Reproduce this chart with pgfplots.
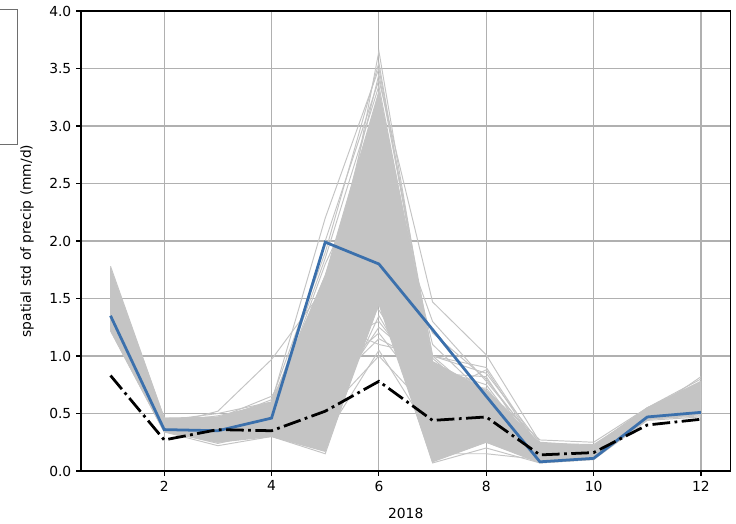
\documentclass[border=0pt]{standalone}
\usepackage{pgfplots}
\pgfplotsset{compat=1.18}
\usepackage{fontspec}
\setmainfont{DejaVu Sans}
\definecolor{ensgray}{RGB}{196,196,196}
\definecolor{gridgray}{RGB}{176,176,176}
\definecolor{mblue}{RGB}{59,112,172}
\definecolor{legframe}{RGB}{110,110,110}
\begin{document}
\begin{tikzpicture}
\path[use as bounding box] (-0.81in,-0.53in) rectangle (6.55in,4.71in);
\draw[legframe, line width=0.8pt] (-1.0in,4.617in) -- (-0.637in,4.617in) -- (-0.637in,3.263in) -- (-1.0in,3.263in);
\begin{axis}[
  at={(0,0)}, anchor=south west,
  scale only axis, width=6.495in, height=4.60in,
  xmin=0.45, xmax=12.55, ymin=0, ymax=4,
  xtick={2,4,6,8,10,12},
  ytick={0,0.5,1,1.5,2,2.5,3,3.5,4},
  yticklabel style={/pgf/number format/.cd, fixed, fixed zerofill, precision=1},
  /pgf/number format/assume math mode=true,
  xtick pos=bottom, ytick pos=left,
  tick align=outside, major tick length=3.5pt,
  every tick/.style={black, line width=0.8pt},
  axis line style={black, line width=0.8pt},
  grid=major, major grid style={gridgray, line width=0.8pt},
  tick label style={font=\fontsize{10}{12}\selectfont},
  label style={font=\fontsize{10}{12}\selectfont},
  xlabel={2018},
  ylabel={spatial std of precip (mm/d)},
  xlabel style={at={(axis description cs:0.5,-0.0913)}, anchor=center},
  ylabel style={at={(axis description cs:-0.0831,0.5)}, anchor=center},
  ens/.style={ensgray, line width=0.7pt},
  clip=true,
]
% dense ensemble envelope
\addplot[draw=ensgray, fill=ensgray, line width=0.7pt] coordinates {
 (1,1.76)(2,0.46)(3,0.47)(4,0.60)(5,1.70)(6,3.30)(7,0.95)(8,0.70)(9,0.24)(10,0.22)(11,0.55)(12,0.78)
 (12,0.50)(11,0.45)(10,0.10)(9,0.07)(8,0.25)(7,0.08)(6,1.45)(5,0.17)(4,0.30)(3,0.25)(2,0.34)(1,1.22)
} -- cycle;
% individual ensemble members
\addplot[ens] coordinates {(1,1.78)(2,0.46)(3,0.45)(4,0.55)(5,1.20)(6,3.65)(7,0.90)(8,0.55)(9,0.20)(10,0.18)(11,0.52)(12,0.70)};
\addplot[ens] coordinates {(1,1.70)(2,0.44)(3,0.50)(4,0.60)(5,2.20)(6,3.50)(7,1.00)(8,0.60)(9,0.22)(10,0.20)(11,0.55)(12,0.80)};
\addplot[ens] coordinates {(1,1.65)(2,0.42)(3,0.40)(4,0.50)(5,2.00)(6,3.40)(7,1.47)(8,1.01)(9,0.25)(10,0.22)(11,0.50)(12,0.75)};
\addplot[ens] coordinates {(1,1.55)(2,0.40)(3,0.52)(4,0.97)(5,1.60)(6,3.20)(7,0.80)(8,0.50)(9,0.18)(10,0.17)(11,0.50)(12,0.82)};
\addplot[ens] coordinates {(1,1.45)(2,0.38)(3,0.35)(4,0.45)(5,0.90)(6,3.30)(7,1.00)(8,0.90)(9,0.20)(10,0.20)(11,0.48)(12,0.60)};
\addplot[ens] coordinates {(1,1.30)(2,0.36)(3,0.30)(4,0.40)(5,0.50)(6,1.00)(7,0.50)(8,0.30)(9,0.10)(10,0.12)(11,0.46)(12,0.50)};
\addplot[ens] coordinates {(1,1.25)(2,0.35)(3,0.25)(4,0.35)(5,0.30)(6,1.05)(7,0.30)(8,0.25)(9,0.08)(10,0.11)(11,0.45)(12,0.48)};
\addplot[ens] coordinates {(1,1.40)(2,0.37)(3,0.28)(4,0.38)(5,0.80)(6,1.20)(7,0.60)(8,0.40)(9,0.12)(10,0.14)(11,0.47)(12,0.55)};
\addplot[ens] coordinates {(1,1.35)(2,0.39)(3,0.32)(4,0.42)(5,1.10)(6,1.30)(7,0.70)(8,0.45)(9,0.15)(10,0.15)(11,0.50)(12,0.60)};
\addplot[ens] coordinates {(1,1.50)(2,0.41)(3,0.38)(4,0.48)(5,1.40)(6,2.20)(7,1.20)(8,0.80)(9,0.20)(10,0.20)(11,0.50)(12,0.65)};
\addplot[ens] coordinates {(1,1.60)(2,0.43)(3,0.42)(4,0.52)(5,1.80)(6,2.80)(7,0.95)(8,0.70)(9,0.27)(10,0.25)(11,0.55)(12,0.72)};
\addplot[ens] coordinates {(1,1.22)(2,0.34)(3,0.22)(4,0.30)(5,0.15)(6,1.50)(7,0.07)(8,0.20)(9,0.07)(10,0.10)(11,0.44)(12,0.47)};
\addplot[ens] coordinates {(1,1.30)(2,0.36)(3,0.27)(4,0.33)(5,0.25)(6,1.60)(7,0.15)(8,0.15)(9,0.10)(10,0.12)(11,0.46)(12,0.52)};
\addplot[ens] coordinates {(1,1.48)(2,0.40)(3,0.46)(4,0.65)(5,1.30)(6,1.10)(7,1.00)(8,0.85)(9,0.24)(10,0.23)(11,0.53)(12,0.68)};
\addplot[ens] coordinates {(1,1.58)(2,0.42)(3,0.48)(4,0.58)(5,1.70)(6,3.00)(7,1.10)(8,0.65)(9,0.21)(10,0.19)(11,0.51)(12,0.76)};
\addplot[ens] coordinates {(1,1.38)(2,0.38)(3,0.33)(4,0.44)(5,0.60)(6,2.50)(7,0.40)(8,0.35)(9,0.14)(10,0.13)(11,0.48)(12,0.58)};
\addplot[ens] coordinates {(1,1.28)(2,0.35)(3,0.26)(4,0.36)(5,0.40)(6,2.00)(7,0.20)(8,0.28)(9,0.09)(10,0.11)(11,0.45)(12,0.50)};
\addplot[ens] coordinates {(1,1.68)(2,0.45)(3,0.44)(4,0.62)(5,1.90)(6,3.55)(7,0.85)(8,0.62)(9,0.19)(10,0.18)(11,0.54)(12,0.74)};
\addplot[ens] coordinates {(1,1.45)(2,0.39)(3,0.36)(4,0.47)(5,1.00)(6,2.90)(7,0.60)(8,0.50)(9,0.16)(10,0.16)(11,0.49)(12,0.62)};
\addplot[ens] coordinates {(1,1.33)(2,0.37)(3,0.31)(4,0.41)(5,0.70)(6,1.15)(7,0.90)(8,0.75)(9,0.13)(10,0.14)(11,0.47)(12,0.56)};
\addplot[ens] coordinates {(1,1.62)(2,0.43)(3,0.41)(4,0.56)(5,1.85)(6,3.35)(7,0.92)(8,0.68)(9,0.23)(10,0.21)(11,0.53)(12,0.73)};
\addplot[ens] coordinates {(1,1.52)(2,0.41)(3,0.39)(4,0.51)(5,1.55)(6,3.45)(7,0.98)(8,0.58)(9,0.19)(10,0.17)(11,0.51)(12,0.69)};
\addplot[ens] coordinates {(1,1.42)(2,0.39)(3,0.34)(4,0.46)(5,1.25)(6,3.10)(7,0.75)(8,0.72)(9,0.17)(10,0.16)(11,0.49)(12,0.64)};
\addplot[ens] coordinates {(1,1.36)(2,0.37)(3,0.29)(4,0.39)(5,0.55)(6,1.25)(7,0.85)(8,0.82)(9,0.12)(10,0.13)(11,0.47)(12,0.57)};
\addplot[ens] coordinates {(1,1.26)(2,0.35)(3,0.24)(4,0.34)(5,0.35)(6,1.35)(7,0.55)(8,0.60)(9,0.09)(10,0.11)(11,0.45)(12,0.49)};
\addplot[ens] coordinates {(1,1.47)(2,0.40)(3,0.37)(4,0.49)(5,1.45)(6,1.40)(7,0.65)(8,0.88)(9,0.18)(10,0.19)(11,0.50)(12,0.66)};
\addplot[ens] coordinates {(1,1.56)(2,0.42)(3,0.43)(4,0.54)(5,1.65)(6,2.60)(7,1.30)(8,0.78)(9,0.22)(10,0.21)(11,0.52)(12,0.71)};
\addplot[ens] coordinates {(1,1.32)(2,0.36)(3,0.28)(4,0.37)(5,0.45)(6,1.70)(7,0.35)(8,0.42)(9,0.11)(10,0.12)(11,0.46)(12,0.53)};
% ensemble mean / observation
\addplot[mblue, line width=2pt] coordinates {(1,1.35)(2,0.36)(3,0.35)(4,0.46)(5,1.99)(6,1.80)(7,1.23)(8,0.65)(9,0.08)(10,0.11)(11,0.47)(12,0.51)};
\addplot[black, line width=2pt, dash pattern=on 12.8pt off 3.2pt on 2pt off 3.2pt] coordinates {(1,0.83)(2,0.27)(3,0.36)(4,0.35)(5,0.52)(6,0.78)(7,0.44)(8,0.47)(9,0.14)(10,0.16)(11,0.40)(12,0.45)};
\end{axis}
\end{tikzpicture}
\end{document}
